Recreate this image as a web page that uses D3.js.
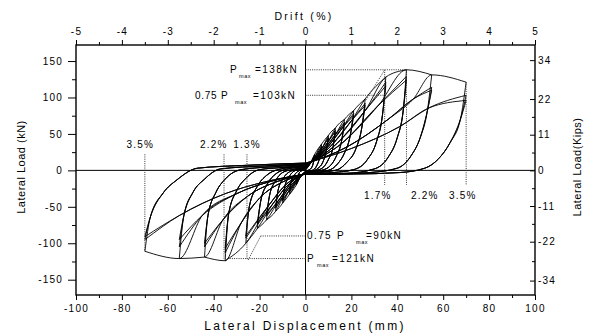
<!DOCTYPE html>
<html>
<head>
<meta charset="utf-8">
<script src="https://cdn.jsdelivr.net/npm/d3@7"></script>
<style>
body { margin: 0; background: #fff; }
text { font-family: "Liberation Sans", Arial, sans-serif; fill: #000; }
</style>
</head>
<body>
<svg width="593" height="334"></svg>
<script>
// cycle amplitudes (mm) and peak loads (kN) per cycle
var posAmp = [4, 7, 10, 13, 17, 21, 26, 35, 44, 55, 70];
var posPeak = [[22, 20, 19], [36, 33, 32], [48, 45, 44], [58, 55, 53], [70, 66, 64], [82, 78, 75],
    [98, 92, 89], [128, 121, 116], [138, 129, 124], [131, 114, 110], [121, 103, 96]];
var negAmp = [-4, -7, -10, -13, -17, -21, -26, -35, -44, -55, -70];
var negPeak = [[-20, -18, -17], [-33, -30, -29], [-45, -42, -40], [-56, -52, -50], [-68, -63, -61], [-80, -75, -72],
    [-100, -93, -90], [-124, -113, -107], [-119, -105, -100], [-121, -105, -95], [-111, -95, -91]];

// points each branch passes through between its ends
var posLoadMid = [
    [[2, 9]], [[3, 13]], [[4, 16], [7.5, 32]], [[5, 19], [10, 40]], [[6, 21], [13, 49]],
    [[8, 26], [16, 58]], [[10, 30], [20, 68]], [[12, 32], [26, 82]], [[15, 35], [32, 90]],
    [[18, 32], [36, 70], [47, 98]], [[20, 30], [41, 60], [54, 86]]
];
var posUnloadMid = [
    [[3.4, 10], [2.2, 2], [0, -1]],
    [[6.2, 18], [5, 7], [3, 0], [0, -2]],
    [[9, 26], [7.5, 11], [5.5, 3], [3, -1], [0, -2]],
    [[12, 32], [10, 15], [8, 5], [5, 0], [0, -3]],
    [[15.7, 40], [13.5, 20], [11, 7], [7, 0], [0, -3]],
    [[19.5, 48], [17, 24], [14, 9], [10, 0], [0, -4]],
    [[24.5, 58], [22, 30], [18, 11], [13, 0], [0, -4]],
    [[33.5, 75], [31, 40], [27, 15], [21, 1], [12, -3], [0, -5]],
    [[42.5, 80], [40, 45], [36, 18], [30, 2], [18, -4], [0, -5]],
    [[53, 80], [50, 45], [46, 20], [40, 3], [28, -3], [12, -5], [0, -5]],
    [[67.5, 70], [63, 38], [58, 16], [52, 3], [41, -3], [20, -5], [0, -5]]
];
var negLoadMid = [
    [[-2, -8]], [[-3, -12]], [[-3.5, -12], [-7, -27]], [[-4.5, -14], [-9, -32]], [[-6, -16], [-11, -38]],
    [[-7, -18], [-14, -45]], [[-8, -18], [-16, -48]], [[-10, -16], [-20, -38], [-28, -72]],
    [[-12, -15], [-25, -35], [-36, -68]], [[-15, -15], [-30, -32], [-45, -62]], [[-18, -16], [-35, -32], [-55, -62]]
];
var negUnloadMid = [
    [[-3.3, -8], [-2, -1], [0, 1]],
    [[-6.2, -15], [-4.5, -5], [-2.5, 0], [0, 2]],
    [[-9, -22], [-7, -8], [-5, -1], [-3, 1], [0, 3]],
    [[-12, -28], [-9.5, -10], [-7, -2], [-4, 1], [0, 3]],
    [[-15.7, -35], [-13, -14], [-10, -3], [-6, 1], [0, 4]],
    [[-19.5, -42], [-16.5, -18], [-13, -5], [-9, 1], [0, 5]],
    [[-24.5, -50], [-21, -22], [-17, -7], [-12, 1], [0, 6]],
    [[-33.5, -60], [-30, -28], [-26, -11], [-20, 1], [-10, 4], [0, 7]],
    [[-42.5, -62], [-39, -30], [-35, -12], [-28, 1], [-14, 5], [0, 8]],
    [[-53, -62], [-49, -30], [-44, -12], [-37, 2], [-18, 6], [0, 9]],
    [[-67.6, -64], [-62, -31], [-56, -13], [-47, 3], [-25, 7], [0, 10]]
];

// axis ticks
var dispTicks = [-100, -80, -60, -40, -20, 0, 20, 40, 60, 80, 100];
var dispMinor = [-90, -70, -50, -30, -10, 10, 30, 50, 70, 90];
var loadTicks = [-150, -100, -50, 0, 50, 100, 150];
var loadMinor = [-125, -75, -25, 25, 75, 125];
var driftTicks = [-5, -4, -3, -2, -1, 0, 1, 2, 3, 4, 5];
var driftMinor = [-4.5, -3.5, -2.5, -1.5, -0.5, 0.5, 1.5, 2.5, 3.5, 4.5];
var kipTicks = [-34, -22, -11, 0, 11, 22, 34];
var kipMinor = [-28, -16.5, -5.5, 5.5, 16.5, 28];

// dotted guide lines [[x1,y1],[x2,y2]] in mm / kN
var guides = [
    [[0, 138], [44, 138]], [[0, 103], [34.5, 103]], [[26.5, 97], [34.5, 138]],
    [[34.5, 138], [34.5, -20]], [[44, 138], [44, -20]], [[70, 121], [70, -20]],
    [[0, -90], [-19.5, -90]], [[0, -121], [-34, -121]], [[-25, -123], [-19.5, -90]],
    [[-70, 22], [-70, -111]], [[-35.5, 22], [-35.5, -122]], [[-25.5, 22], [-25.5, -122]]
];
var driftLabels = [["3.5%", -72, 35], ["2.2%", -40, 35], ["1.3%", -25.5, 35],
    ["1.7%", 31.5, -34], ["2.2%", 52, -34], ["3.5%", 68.5, -34]];

var svg = d3.select("svg");
var x = d3.scaleLinear().domain([-100, 100]).range([76, 535]);
var y = d3.scaleLinear().domain([-171, 172]).range([295, 45]);
var drift = d3.scaleLinear().domain([-5, 5]).range([76, 535]);
var kips = d3.scaleLinear().domain([-171 / 4.448, 172 / 4.448]).range([295, 45]);

function tidy(g) {
    g.select(".domain").remove();
    g.selectAll("line").attr("stroke", "#000").attr("stroke-width", 1);
    g.selectAll("text").style("font-size", "10px").style("letter-spacing", "1.2px");
}

svg.append("g").attr("transform", "translate(76,0)")
    .call(d3.axisLeft(y).tickValues(loadTicks).tickSize(8).tickPadding(5).tickFormat(String)).call(tidy);
svg.append("g").attr("transform", "translate(76,0)")
    .call(d3.axisLeft(y).tickValues(loadMinor).tickSize(4).tickFormat("")).call(tidy);
svg.append("g").attr("transform", "translate(0,295)")
    .call(d3.axisBottom(x).tickValues(dispTicks).tickSize(5).tickPadding(5).tickFormat(String)).call(tidy);
svg.append("g").attr("transform", "translate(0,295)")
    .call(d3.axisBottom(x).tickValues(dispMinor).tickSize(3).tickFormat("")).call(tidy);
svg.append("g").attr("transform", "translate(0,45)")
    .call(d3.axisTop(drift).tickValues(driftTicks).tickSize(5).tickPadding(5).tickFormat(String)).call(tidy);
svg.append("g").attr("transform", "translate(0,45)")
    .call(d3.axisTop(drift).tickValues(driftMinor).tickSize(3).tickFormat("")).call(tidy);
svg.append("g").attr("transform", "translate(535,0)")
    .call(d3.axisRight(kips).tickValues(kipTicks).tickSize(-5).tickPadding(3).tickFormat(String)).call(tidy);
svg.append("g").attr("transform", "translate(535,0)")
    .call(d3.axisRight(kips).tickValues(kipMinor).tickSize(-3).tickFormat("")).call(tidy);

// frame and zero lines
svg.append("rect").attr("x", 76).attr("y", 45).attr("width", 459).attr("height", 250)
    .attr("fill", "none").attr("stroke", "#000").attr("stroke-width", 1.4);
svg.append("line").attr("x1", x(-100)).attr("x2", x(100)).attr("y1", y(0)).attr("y2", y(0))
    .attr("stroke", "#000").attr("stroke-width", 1);
svg.append("line").attr("x1", x(0)).attr("x2", x(0)).attr("y1", 45).attr("y2", 295)
    .attr("stroke", "#000").attr("stroke-width", 1);

// build hysteresis branches, each kept in increasing x order
var branches = [];
var start = [0, 0];
posAmp.forEach(function (D, i) {
    for (var c = 0; c < 3; c++) {
        var up = [start];
        if (c === 0 && i > 0) up = up.concat(posLoadMid[i - 1], [[posAmp[i - 1], posPeak[i - 1][0]]]);
        else up = up.concat(posLoadMid[i]);
        up.push([D, posPeak[i][c]]);
        var down = [[D, posPeak[i][c]]].concat(posUnloadMid[i]);
        var nl = [down[down.length - 1]];
        if (c === 0 && i > 0) nl = nl.concat(negLoadMid[i - 1], [[negAmp[i - 1], negPeak[i - 1][0]]]);
        else nl = nl.concat(negLoadMid[i]);
        nl.push([negAmp[i], negPeak[i][c]]);
        var nu = [[negAmp[i], negPeak[i][c]]].concat(negUnloadMid[i]);
        branches.push(up, down.slice().reverse(), nl.slice().reverse(), nu);
        start = nu[nu.length - 1];
    }
});

var line = d3.line()
    .x(function (d) { return x(d[0]); })
    .y(function (d) { return y(d[1]); })
    .curve(d3.curveMonotoneX);

svg.append("g").selectAll("path").data(branches).enter().append("path")
    .attr("d", line)
    .attr("fill", "none")
    .attr("stroke", "#000")
    .attr("stroke-width", 0.9);

// dotted guides
svg.append("g").selectAll("line").data(guides).enter().append("line")
    .attr("x1", function (d) { return x(d[0][0]); })
    .attr("y1", function (d) { return y(d[0][1]); })
    .attr("x2", function (d) { return x(d[1][0]); })
    .attr("y2", function (d) { return y(d[1][1]); })
    .attr("stroke", "#333")
    .attr("stroke-width", 1)
    .attr("stroke-dasharray", "1,1.2");

svg.append("g").selectAll("text").data(driftLabels).enter().append("text")
    .attr("x", function (d) { return x(d[1]); })
    .attr("y", function (d) { return y(d[2]) + 3.5; })
    .attr("text-anchor", "middle")
    .style("font-size", "10px")
    .style("letter-spacing", "1.2px")
    .text(function (d) { return d[0]; });

// P max labels
function pLabel(parts, load) {
    var base = y(load) + 3.5;
    parts.forEach(function (p) {
        svg.append("text")
            .attr("x", p[0])
            .attr("y", p[2] ? base + 5 : base)
            .style("font-size", p[2] ? "5.5px" : "10px")
            .style("letter-spacing", p[2] ? "0.6px" : (p[3] || "1.4px"))
            .text(p[1]);
    });
}
pLabel([[230, "P"], [239, "max", 1], [255, "=138kN"]], 138);
pLabel([[195, "0.75", 0, "0.7px"], [221, "P"], [235, "max", 1], [253, "=103kN"]], 103);
pLabel([[307, "0.75"], [337, "P"], [356, "max", 1], [366, "=90kN"]], -90);
pLabel([[307, "P"], [317, "max", 1], [332, "=121kN"]], -121);

// axis titles
svg.append("text").attr("x", 304).attr("y", 20).attr("text-anchor", "middle")
    .style("font-size", "10.5px").style("letter-spacing", "2.3px").text("Drift (%)");
svg.append("text").attr("x", 305).attr("y", 330).attr("text-anchor", "middle")
    .style("font-size", "12px").style("letter-spacing", "2.3px").text("Lateral Displacement (mm)");
svg.append("text").attr("transform", "translate(25,167) rotate(-90)").attr("text-anchor", "middle")
    .style("font-size", "11px").style("letter-spacing", "0.5px").text("Lateral Load (kN)");
svg.append("text").attr("transform", "translate(581,167) rotate(-90)").attr("text-anchor", "middle")
    .style("font-size", "11px").style("letter-spacing", "0.5px").text("Lateral Load(Kips)");
</script>
</body>
</html>
